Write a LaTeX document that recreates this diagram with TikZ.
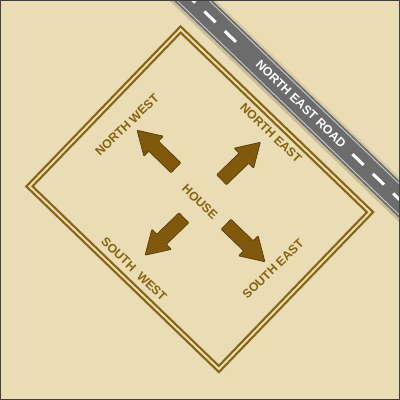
\documentclass[tikz,border=0pt]{standalone}
\usepackage{fontspec}
\setmainfont{Liberation Sans}
\begin{document}
\begin{tikzpicture}[x=1pt,y=-1pt]
\definecolor{bg}{HTML}{EADCB4}
\definecolor{gold}{HTML}{86640F}
\definecolor{arrowfill}{HTML}{80590C}
\definecolor{arrowline}{HTML}{5A3D08}
\definecolor{roadgray}{HTML}{6C6C6C}
\definecolor{edgegray}{HTML}{C8C8C8}
\tikzset{
  lbl/.style={text=gold, font=\bfseries\fontsize{12.3}{12.3}\selectfont, inner sep=0pt},
  roadlbl/.style={text=white, font=\bfseries\fontsize{12.3}{12.3}\selectfont, inner sep=0pt},
  dirarrow/.style={fill=arrowfill, draw=arrowline, line width=0.7pt, rounded corners=0.8pt},
  roaddash/.style={draw=white, line width=3pt},
  roadedge/.style={draw=edgegray, line width=0.9pt},
  houseline/.style={draw=gold, line width=2.1pt, double=bg, double distance=2pt}
}
\useasboundingbox (0,0) rectangle (400,400);
\fill[bg] (0,0) rectangle (400,400);
% road
\begin{scope}
  \clip (0,0) rectangle (400,400);
  \begin{scope}[shift={(192.5,0)},rotate=-43.95]
    \fill[black,opacity=0.14] (-60,13.5) rectangle (420,16.5);
    \fill[black,opacity=0.08] (-60,-16) rectangle (420,-13.5);
    \fill[roadgray] (-60,-13.5) rectangle (420,13.5);
    \draw[roadedge] (-60,-11.2) -- (420,-11.2);
    \draw[roadedge] (-60,11.2) -- (420,11.2);
    \foreach \s in {-11.7,16.6,44.9,222.2,250.5,278.8,307.1}
      \draw[roaddash] (\s,0) -- ++(15.5,0);
  \end{scope}
\end{scope}
\node[roadlbl,rotate=-43.95] (roadname) at (301,104) {NORTH EAST ROAD};
% house outline
\begin{scope}[shift={(199.75,199.25)},rotate=-43.95]
  \draw[black,opacity=0.15,line width=7pt] (-131.6,-108.95) rectangle (131.6,108.95);
  \draw[houseline] (-131.6,-108.95) rectangle (131.6,108.95);
\end{scope}
% arrows
\begin{scope}[shift={(156.5,149)},rotate=136]
  \draw[dirarrow] (-27,-7) -- (4,-7) -- (4,-14) -- (27,0) -- (4,14) -- (4,7) -- (-27,7) -- cycle;
\end{scope}
\begin{scope}[shift={(241,161)},rotate=44]
  \draw[dirarrow] (-27,-7) -- (4,-7) -- (4,-14) -- (27,0) -- (4,14) -- (4,7) -- (-27,7) -- cycle;
\end{scope}
\begin{scope}[shift={(164.5,236.5)},rotate=-136]
  \draw[dirarrow] (-27,-7) -- (4,-7) -- (4,-14) -- (27,0) -- (4,14) -- (4,7) -- (-27,7) -- cycle;
\end{scope}
\begin{scope}[shift={(245.5,243)},rotate=-44]
  \draw[dirarrow] (-27,-7) -- (4,-7) -- (4,-14) -- (27,0) -- (4,14) -- (4,7) -- (-27,7) -- cycle;
\end{scope}
% labels
\node[lbl,rotate=44] (nw) at (127,125) {NORTH WEST};
\node[lbl,rotate=-44] (ne) at (271,133) {NORTH EAST};
\node[lbl,rotate=-44] (house) at (200,202) {HOUSE};
\node[lbl,rotate=-44] (sw) at (134,269) {SOUTH\ \ WEST};
\node[lbl,rotate=44] (se) at (273,269) {SOUTH EAST};
% frame
\draw[line width=1pt, color=black!75] (0.5,0.5) rectangle (399.5,399.5);
\end{tikzpicture}
\end{document}
